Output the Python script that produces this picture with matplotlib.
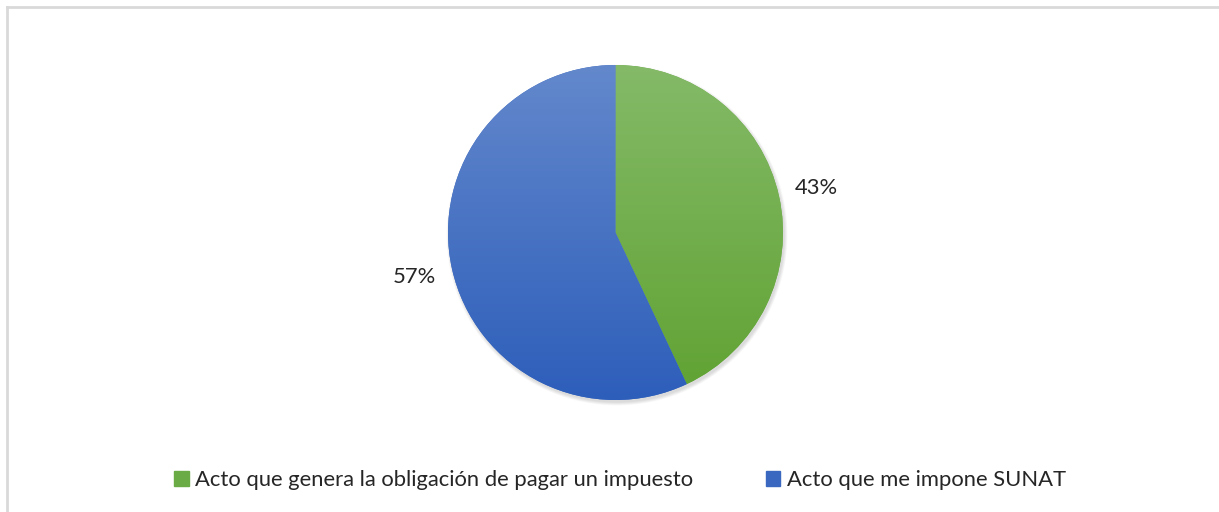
import matplotlib
matplotlib.use("Agg")
import matplotlib.pyplot as plt
import numpy as np
from matplotlib.colors import LinearSegmentedColormap
from matplotlib.lines import Line2D
from matplotlib.patches import Circle

categories = ["Acto que genera la obligación de pagar un impuesto", "Acto que me impone SUNAT"]
shares = [43, 57]
pct_labels = ["43%", "57%"]
top_colors = ["#84BA68", "#6388CC"]
bottom_colors = ["#60A232", "#2D5EBA"]
legend_colors = ["#6AAB45", "#3A68C0"]

plt.rcParams["font.family"] = ["Lato", "DejaVu Sans"]

W, H = 1219, 512
figure = plt.figure(figsize=(W / 100, H / 100), dpi=100)
axes = figure.add_axes([0, 0, 1, 1])

cx, cy, r = 615.5, H - 232.5, 167.5

# soft shadow
for i in range(6):
    axes.add_patch(Circle((cx + 1.5, cy - 2.5), r + 3 - i * 0.6, color="black", alpha=0.025, lw=0, zorder=0))

wedges, texts = axes.pie(shares, colors=legend_colors, startangle=90, counterclock=False,
                         center=(cx, cy), radius=r, labels=pct_labels, labeldistance=1.23,
                         textprops={"fontsize": 15.8, "color": "#262626", "ha": "center", "va": "center"},
                         wedgeprops={"linewidth": 0, "zorder": 1}, frame=True)

grad = np.linspace(1, 0, 256).reshape(-1, 1)
for wedge, top, bottom in zip(wedges, top_colors, bottom_colors):
    cmap = LinearSegmentedColormap.from_list("g", [bottom, top])
    im = axes.imshow(grad, cmap=cmap, vmin=0, vmax=1, extent=(cx - r, cx + r, cy - r, cy + r),
                     aspect="auto", zorder=2, interpolation="bilinear")
    im.set_clip_path(wedge)
axes.set_xlim(0, W)
axes.set_ylim(0, H)
axes.set_aspect("equal")
axes.axis("off")

# chart border (top and left)
figure.add_artist(Line2D([7 / W, 1], [1 - 7 / H, 1 - 7 / H], color="#D9D9D9", lw=2, transform=figure.transFigure))
figure.add_artist(Line2D([7 / W, 7 / W], [0, 1 - 7 / H], color="#D9D9D9", lw=2, transform=figure.transFigure))

handles = [plt.Rectangle((0, 0), 1, 1, color=c) for c in legend_colors]
figure.legend(handles, categories, loc="center", bbox_to_anchor=(620 / W, 32 / H), ncol=2, frameon=False,
              fontsize=15.8, handlelength=0.65, handleheight=0.65, handletextpad=0.3, columnspacing=3.3,
              labelcolor="#262626")

figure.savefig("out.png", dpi=100)
